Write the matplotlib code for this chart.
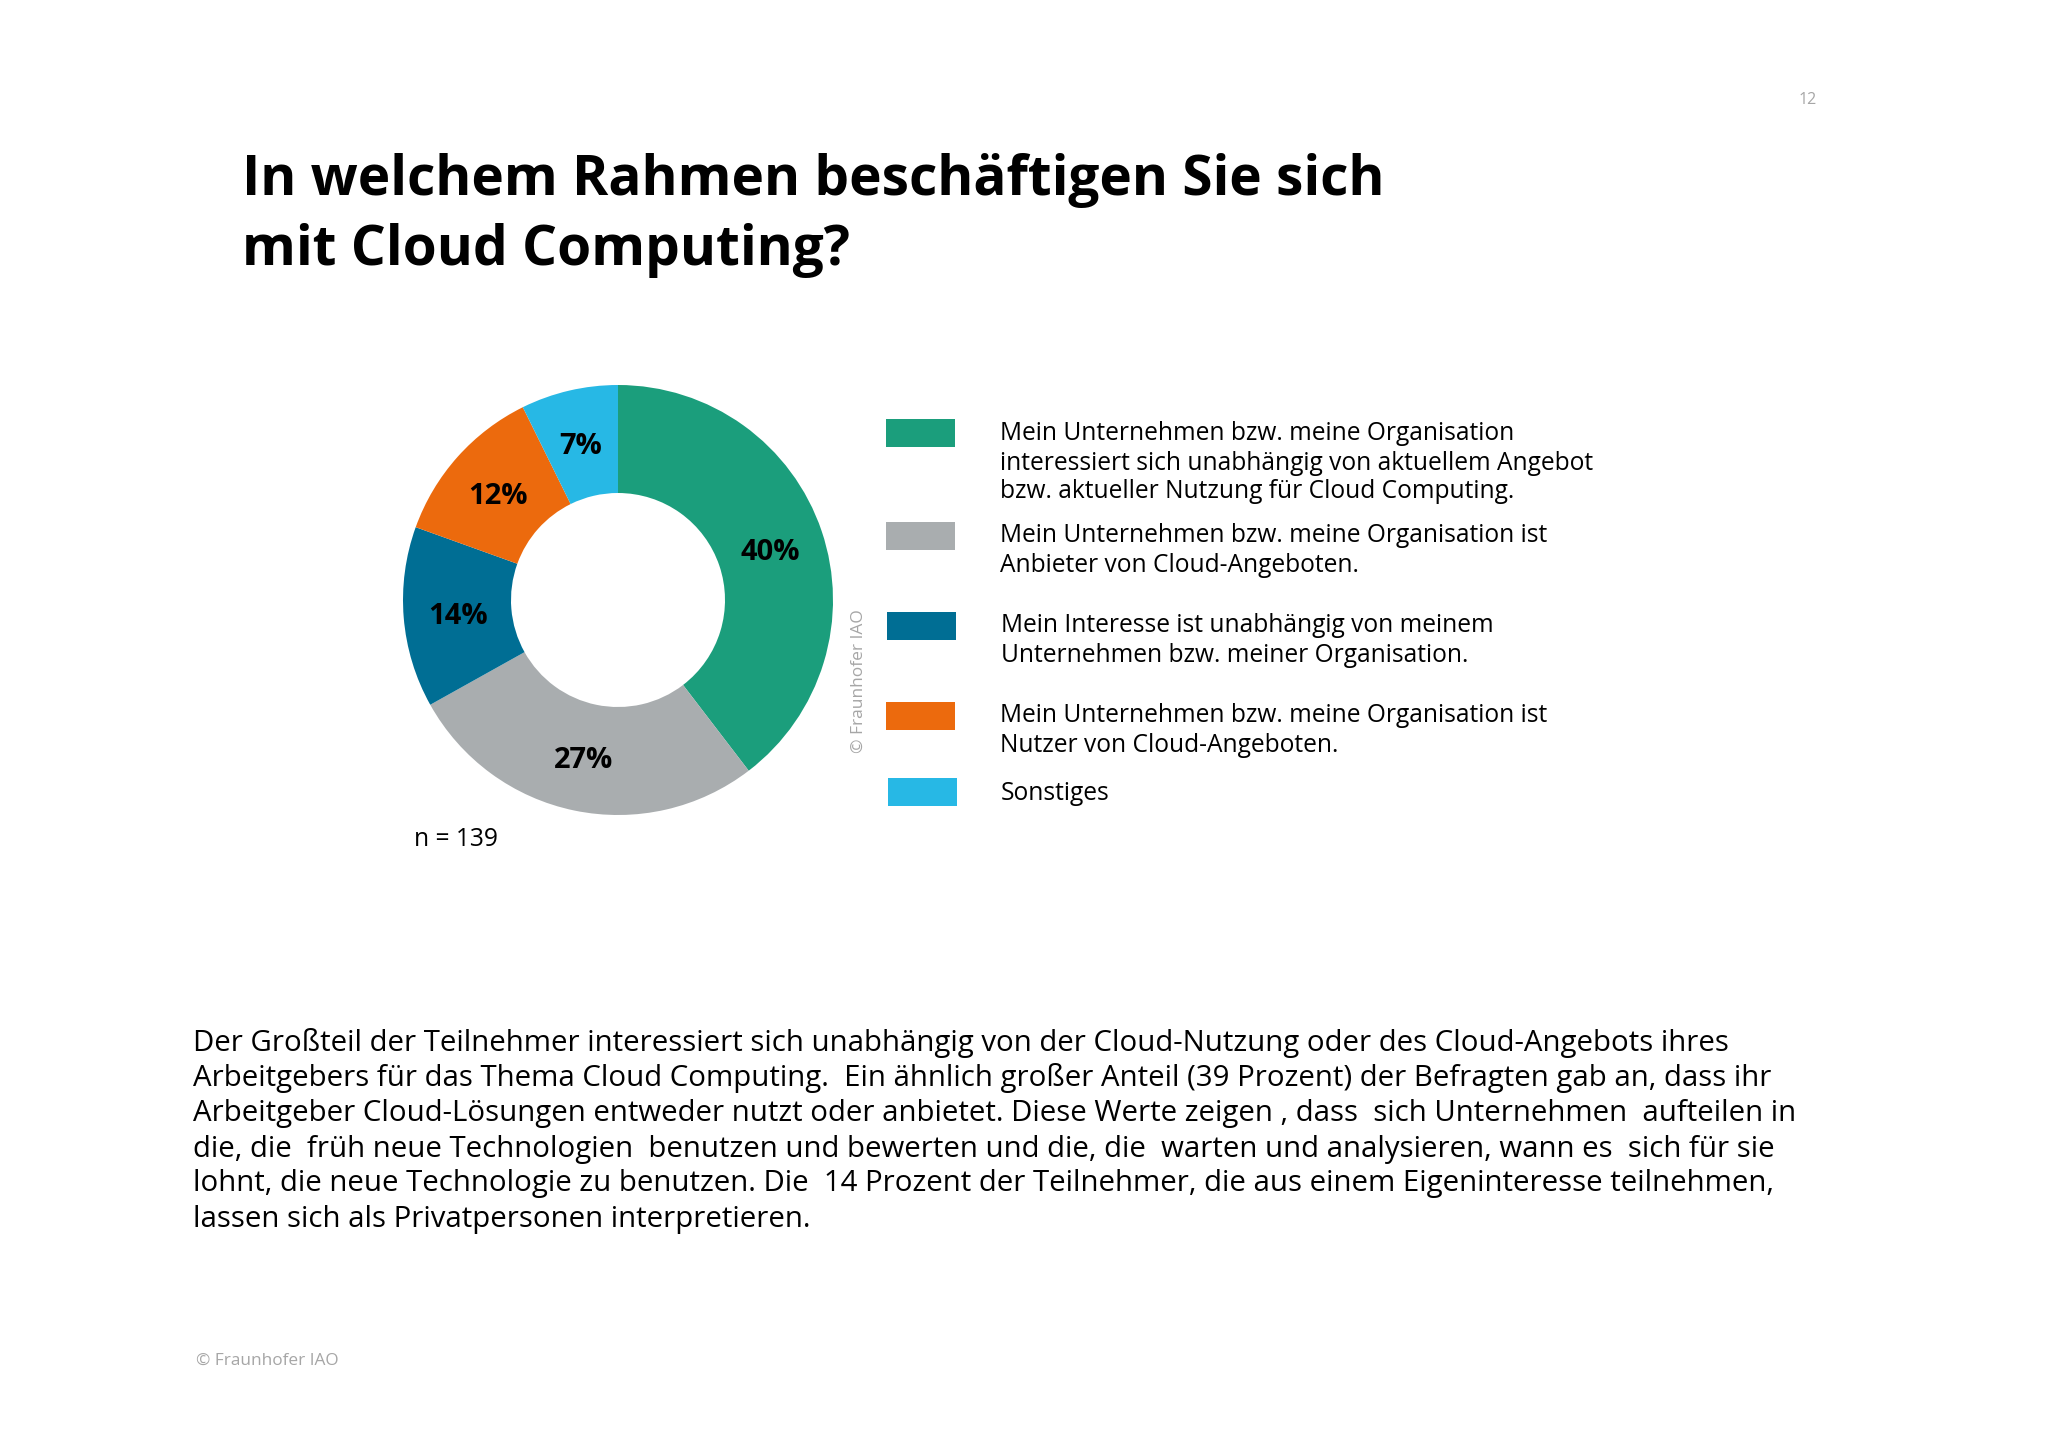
"""Fraunhofer IAO survey slide: donut chart with legend and summary text."""

import matplotlib
matplotlib.use("Agg")
import matplotlib.pyplot as plt
from matplotlib.patches import Rectangle

plt.rcParams["font.family"] = ["Open Sans", "DejaVu Sans"]

TITLE = ["In welchem Rahmen beschäftigen Sie sich", "mit Cloud Computing?"]
# the printed labels are these values rounded
SHARES = [39.6, 27.3, 13.6, 12.2, 7.3]
COLORS = ["#1B9E7C", "#A9ADAF", "#006E94", "#EC6A0D", "#27B8E5"]
LEGEND = [
    ["Mein Unternehmen bzw. meine Organisation",
     "interessiert sich unabhängig von aktuellem Angebot",
     "bzw. aktueller Nutzung für Cloud Computing."],
    ["Mein Unternehmen bzw. meine Organisation ist",
     "Anbieter von Cloud-Angeboten."],
    ["Mein Interesse ist unabhängig von meinem",
     "Unternehmen bzw. meiner Organisation."],
    ["Mein Unternehmen bzw. meine Organisation ist",
     "Nutzer von Cloud-Angeboten."],
    ["Sonstiges"],
]
BODY = [
    "Der Großteil der Teilnehmer interessiert sich unabhängig von der Cloud-Nutzung oder des Cloud-Angebots ihres",
    "Arbeitgebers für das Thema Cloud Computing.  Ein ähnlich großer Anteil (39 Prozent) der Befragten gab an, dass ihr",
    "Arbeitgeber Cloud-Lösungen entweder nutzt oder anbietet. Diese Werte zeigen , dass  sich Unternehmen  aufteilen in",
    "die, die  früh neue Technologien  benutzen und bewerten und die, die  warten und analysieren, wann es  sich für sie",
    "lohnt, die neue Technologie zu benutzen. Die  14 Prozent der Teilnehmer, die aus einem Eigeninteresse teilnehmen,",
    "lassen sich als Privatpersonen interpretieren.",
]

W, H = 2048, 1448

# layout in reference pixels
CX, CY, R_OUT, R_IN = 618, 600, 215, 107
PCT_POS = [(770, 552), (584, 760), (458, 616), (498, 496), (581, 446)]
SWATCH_X = [886, 886, 887, 886, 888]
SWATCH_Y = [419, 522, 612, 702, 778]
LEGEND_X = [1000, 1000, 1001, 1000, 1001]
LEGEND_Y = [[434, 463, 492], [536, 566], [626, 656], [716, 746], [793]]
BODY_Y = [1043, 1078, 1113, 1149, 1184, 1219]


fig = plt.figure(figsize=(W / 100, H / 100), dpi=100, facecolor="white")

# donut
pie_ax = fig.add_axes([(CX - R_OUT) / W, 1 - (CY + R_OUT) / H, 2 * R_OUT / W, 2 * R_OUT / H])
pie_ax.pie(
    SHARES,
    colors=COLORS,
    startangle=90,
    counterclock=False,
    radius=1,
    wedgeprops={"width": 1 - R_IN / R_OUT, "linewidth": 0},
)
pie_ax.set_xlim(-1, 1)
pie_ax.set_ylim(-1, 1)
pie_ax.axis("off")

# overlay whose data coordinates are reference pixels
ax = fig.add_axes([0, 0, 1, 1], zorder=5)
ax.set_xlim(0, W)
ax.set_ylim(H, 0)
ax.axis("off")

ax.text(1817, 100, "12", fontsize=11.5, color="#A6A6A6", ha="right", va="center")

for line, y in zip(TITLE, [180, 250]):
    ax.text(242, y, line, fontsize=39.6, fontweight="bold", color="black", va="center")

for share, (x, y) in zip(SHARES, PCT_POS):
    ax.text(x, y, f"{share:.0f}%", fontsize=21, fontweight="bold", color="black",
            ha="center", va="center")

for color, sx, sy, lines, tx, ys in zip(COLORS, SWATCH_X, SWATCH_Y, LEGEND, LEGEND_X, LEGEND_Y):
    ax.add_patch(Rectangle((sx, sy), 69, 28, facecolor=color, edgecolor="none"))
    for line, y in zip(lines, ys):
        ax.text(tx, y, line, fontsize=17.65, color="black", va="center")

ax.text(414, 840, "n = 139", fontsize=17.7, color="black", va="center")
ax.text(859, 753, "© Fraunhofer IAO", fontsize=12.5, color="#A6A6A6",
        rotation=90, ha="center", va="bottom")

for line, y in zip(BODY, BODY_Y):
    ax.text(193, y, line, fontsize=21.15, color="black", va="center")

ax.text(196, 1361, "© Fraunhofer IAO", fontsize=12.4, color="#A6A6A6", va="center")

fig.savefig("out.png", dpi=100)
